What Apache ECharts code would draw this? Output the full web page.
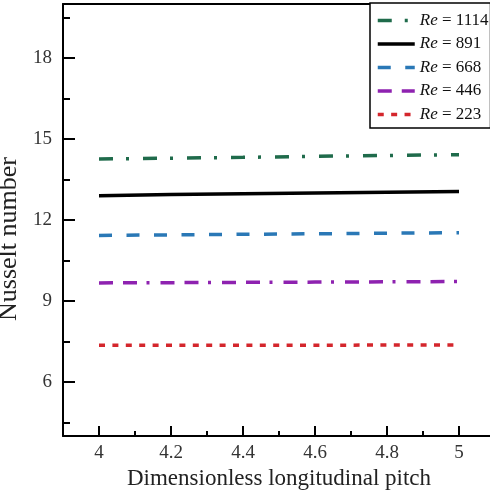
<!DOCTYPE html>
<html>
<head>
<meta charset="utf-8">
<script src="https://cdn.jsdelivr.net/npm/echarts@6/dist/echarts.min.js"></script>
<style>html,body{margin:0;padding:0;background:#fff}#c{width:490px;height:490px}</style>
</head>
<body>
<div id="c"></div>
<script>
// Data
const pitch = [4, 4.2, 4.4, 4.6, 4.8, 5];
const reLabels = ['1114', '891', '668', '446', '223'];
const nu1114 = [14.26, 14.29, 14.32, 14.36, 14.39, 14.42];
const nu891  = [12.90, 12.94, 12.97, 13.00, 13.03, 13.06];
const nu668  = [11.43, 11.45, 11.47, 11.49, 11.51, 11.53];
const nu446  = [9.67, 9.68, 9.69, 9.70, 9.71, 9.72];
const nu223  = [7.36, 7.36, 7.36, 7.36, 7.37, 7.37];
const xMajorTicks = [4, 4.2, 4.4, 4.6, 4.8, 5];
const xMinorTicks = [4.1, 4.3, 4.5, 4.7, 4.9];
const yMajorTicks = [6, 9, 12, 15, 18];
const yMinorTicks = [4.5, 7.5, 10.5, 13.5, 16.5, 19.5];

const seriesValues = [nu1114, nu891, nu668, nu446, nu223];
const colors = ['#1f6b4b', '#000000', '#2a78b6', '#8e22b0', '#d4262c'];
const dashes = [[14, 13, 3, 14], 'solid', [13, 14.5], [14, 10, 14, 9.5, 3, 11], [6, 7.4]];

const font = 'Liberation Serif, Times New Roman, serif';
const chart = echarts.init(document.getElementById('c'));

const series = seriesValues.map((vals, i) => ({
  name: 'Re = ' + reLabels[i],
  type: 'line',
  data: pitch.map((x, j) => [x, vals[j]]),
  showSymbol: false,
  symbol: 'none',
  xAxisIndex: 0,
  yAxisIndex: 0,
  lineStyle: { color: colors[i], width: 3.5, type: dashes[i], cap: 'butt' },
  itemStyle: { color: colors[i] },
  animation: false
}));

const axLine = { lineStyle: { color: '#000', width: 2 } };
chart.setOption({
  animation: false,
  grid: { left: 63, top: 4, width: 432, height: 432, containLabel: false, outerBoundsMode: 'none' },
  legend: {
    orient: 'vertical',
    left: 370, top: 3,
    itemWidth: 37, itemHeight: 16, itemGap: 6.5,
    padding: [9, 2, 5, 6],
    borderColor: '#000', borderWidth: 1.5,
    backgroundColor: '#fff',
    itemStyle: { color: 'rgba(0,0,0,0)', borderColor: 'rgba(0,0,0,0)', borderWidth: 0 },
    lineStyle: { width: 3.5, cap: 'butt' },
    data: series.map(s => s.name),
    formatter: n => '{i|Re}' + n.slice(2),
    textStyle: {
      fontFamily: font, fontSize: 17, lineHeight: 16, color: '#111',
      rich: { i: { fontStyle: 'italic', fontFamily: font, fontSize: 17, lineHeight: 16, color: '#111' } }
    }
  },
  xAxis: [
    {
      type: 'value', min: 3.9, max: 5.1, position: 'bottom',
      name: 'Dimensionless longitudinal pitch', nameLocation: 'middle', nameGap: 27,
      nameTextStyle: { fontFamily: font, fontSize: 23, color: '#222' },
      axisLine: axLine,
      axisTick: { inside: true, length: 10, customValues: xMajorTicks, lineStyle: { color: '#000', width: 2 } },
      axisLabel: { customValues: xMajorTicks, margin: 8, fontFamily: font, fontSize: 19, color: '#333' },
      splitLine: { show: false }
    },
    {
      type: 'value', min: 3.9, max: 5.1, position: 'bottom', offset: 0,
      axisLine: { show: false },
      axisTick: { inside: true, length: 5, customValues: xMinorTicks, lineStyle: { color: '#000', width: 2 } },
      axisLabel: { show: false }, splitLine: { show: false }
    },
    {
      type: 'value', min: 3.9, max: 5.1, position: 'top', offset: 0,
      axisLine: axLine, axisTick: { show: false }, axisLabel: { show: false }, splitLine: { show: false }
    }
  ],
  yAxis: [
    {
      type: 'value', min: 4, max: 20, position: 'left',
      name: 'Nusselt number', nameLocation: 'middle', nameGap: 26,
      nameTextStyle: { fontFamily: font, fontSize: 26, color: '#222', padding: [0, 38, 0, 0] },
      axisLine: axLine,
      axisTick: { inside: true, length: 12, customValues: yMajorTicks, lineStyle: { color: '#000', width: 2 } },
      axisLabel: { customValues: yMajorTicks, margin: 11, fontFamily: font, fontSize: 19, color: '#333' },
      splitLine: { show: false }
    },
    {
      type: 'value', min: 4, max: 20, position: 'left', offset: 0,
      axisLine: { show: false },
      axisTick: { inside: true, length: 7, customValues: yMinorTicks, lineStyle: { color: '#000', width: 2 } },
      axisLabel: { show: false }, splitLine: { show: false }
    },
    {
      type: 'value', min: 4, max: 20, position: 'right', offset: 0,
      axisLine: axLine, axisTick: { show: false }, axisLabel: { show: false }, splitLine: { show: false }
    }
  ],
  series: series
});
</script>
</body>
</html>
